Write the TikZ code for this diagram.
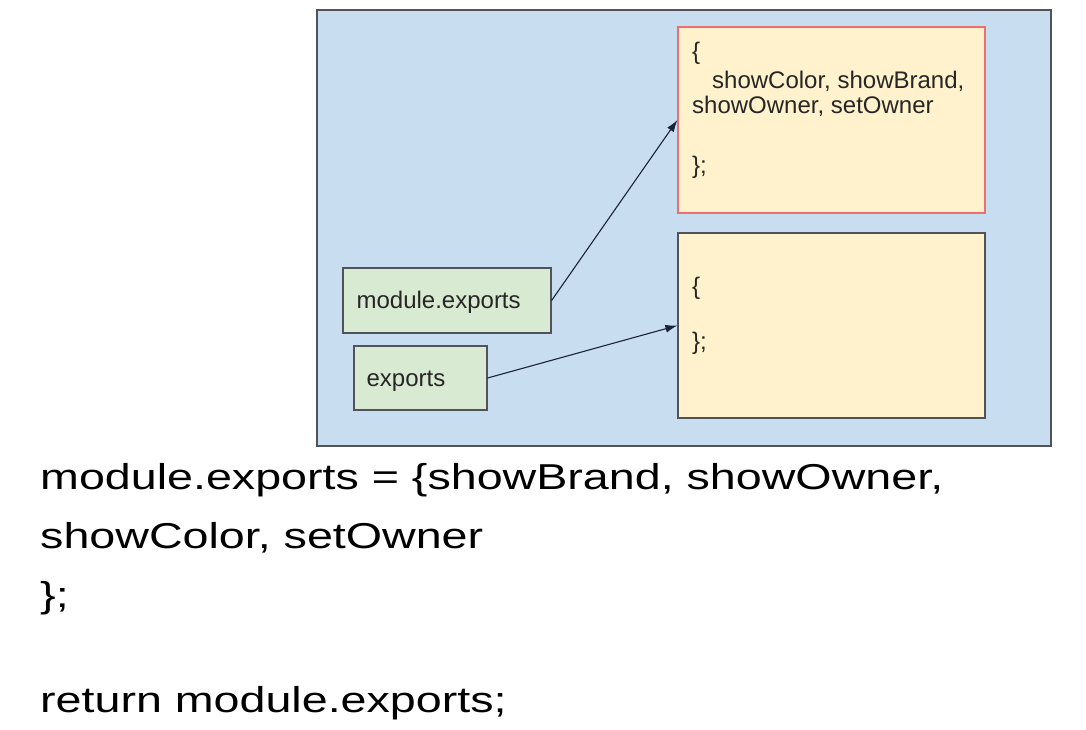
\documentclass[tikz,border=0pt]{standalone}
\usepackage{fontspec}
\setmainfont{Liberation Sans}
\usepackage{tikz}
\usetikzlibrary{calc,arrows.meta,positioning}
\definecolor{panelblue}{RGB}{201,221,240}
\definecolor{varGreen}{RGB}{217,234,211}
\definecolor{objYellow}{RGB}{255,242,204}
\definecolor{objRed}{RGB}{236,110,110}
\definecolor{edgeGray}{RGB}{80,84,90}
\definecolor{arrowNavy}{RGB}{25,35,60}
\tikzset{
	>={Latex[length=12pt,width=8pt]},   % small filled tips
	panel/.style={draw=edgeGray, fill=panelblue, line width=1.2pt},
	varbox/.style={draw=edgeGray, fill=varGreen, line width=1.2pt, inner sep=0pt},
	objbox/.style={draw=edgeGray, fill=objYellow, line width=1.2pt, inner sep=0pt},
	small/.style={anchor=base west, inner sep=0pt, font=\fontsize{24}{28}\selectfont, text=black!85},
	bigcode/.style={anchor=base west, inner sep=0pt, font=\fontsize{36}{40}\selectfont},
	ref/.style={->, arrowNavy, line width=1.1pt}
}
\newcommand{\wide}[1]{\scalebox{1.295}[1]{#1}}
\begin{document}
\begin{tikzpicture}[x=1pt,y=-1pt]
		\useasboundingbox[fill=white] (0,0) rectangle (1086,730);
		
		% memory panel
		\node[panel, minimum width=734pt, minimum height=436pt] (mem) at (684,228) {};
		
		% objects
		\node[objbox, draw=objRed, minimum width=307pt, minimum height=186pt] (obj1) at (831.5,120) {};
		\node[objbox, minimum width=307pt, minimum height=185pt] (obj2) at (831.5,325.5) {};
		
		\node[small] (o1a) at (692,60) {\{};
		\node[small] (o1b) at (712,89) {showColor, showBrand,};
		\node[small] (o1c) at (692,114) {showOwner, setOwner};
		\node[small] (o1d) at (692,174) {\};};
		
		\node[small] (o2a) at (692,294) {\{};
		\node[small] (o2b) at (692,349) {\};};
		
		% variables
		\node[varbox, minimum width=208pt, minimum height=65pt] (mexp) at (447,300.5) {};
		\node[small] at ($(mexp.west)+(14,8)$) {module.exports};
		\node[varbox, minimum width=133pt, minimum height=64pt] (exp) at (420.5,378) {};
		\node[small] at ($(exp.west)+(13,8)$) {exports};
		
		% references
		\draw[ref] (mexp.east) -- (obj1.west);
		\draw[ref] (exp.east) -- (obj2.west);
		
		% code below
		\node[bigcode] (c1) at (40,489) {\wide{module.exports = \{showBrand, showOwner,}};
		\node[bigcode] (c2) at (40,548) {\wide{showColor, setOwner}};
		\node[bigcode] (c3) at (40,607) {\wide{\};}};
		\node[bigcode] (c4) at (40,712) {\wide{return module.exports;}};
	\end{tikzpicture}
\end{document}
